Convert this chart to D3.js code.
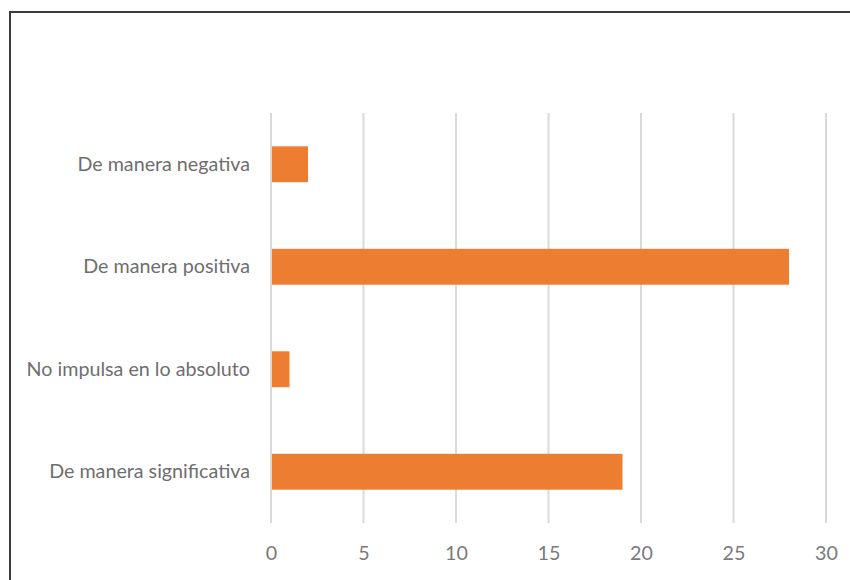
<!DOCTYPE html>
<html>
<head>
<meta charset="utf-8">
<script src="https://cdn.jsdelivr.net/npm/d3@7"></script>
<style>
  html, body { margin: 0; padding: 0; background: #fff; }
  svg { display: block; }
</style>
</head>
<body>
<svg id="chart" width="850" height="580"></svg>
<script>
const categories = ["De manera negativa", "De manera positiva", "No impulsa en lo absoluto", "De manera significativa"];
const values = [2, 28, 1, 19];
const tickValues = [0, 5, 10, 15, 20, 25, 30];

const svg = d3.select("#chart");
const W = 850, H = 580;
const margin = { left: 271, right: 24, top: 113, bottom: 57 };

// outer frame
svg.append("rect")
  .attr("x", 10).attr("y", 12)
  .attr("width", 860).attr("height", 600)
  .attr("fill", "#fff")
  .attr("stroke", "#3a3a3a")
  .attr("stroke-width", 2);

const x = d3.scaleLinear().domain([0, 30]).range([margin.left, W - margin.right]);
const y = d3.scaleBand().domain(categories).range([margin.top, H - margin.bottom]).paddingInner(0.65).paddingOuter(0.325);

// gridlines
svg.append("g")
  .selectAll("line")
  .data(tickValues)
  .join("line")
  .attr("x1", d => x(d)).attr("x2", d => x(d))
  .attr("y1", margin.top).attr("y2", H - margin.bottom)
  .attr("stroke", "#d9d9d9")
  .attr("stroke-width", 2);

// bars
svg.append("g")
  .selectAll("rect")
  .data(categories)
  .join("rect")
  .attr("x", x(0) + 1)
  .attr("y", d => y(d))
  .attr("width", (d, i) => x(values[i]) - x(0) - 1)
  .attr("height", y.bandwidth())
  .attr("fill", "#ED7D31");

// x axis labels
const xAxis = d3.axisBottom(x).tickValues(tickValues).tickSize(0).tickPadding(0);
const gx = svg.append("g")
  .attr("transform", `translate(0, ${H - margin.bottom + 23})`)
  .call(xAxis);
gx.select(".domain").remove();
gx.selectAll("text")
  .attr("font-family", "Lato, 'Open Sans', sans-serif")
  .attr("font-size", 19.7)
  .attr("fill", "#7a7a7a");

// y axis labels
const yAxis = d3.axisLeft(y).tickSize(0).tickPadding(21);
const gy = svg.append("g")
  .attr("transform", `translate(${margin.left}, 0)`)
  .call(yAxis);
gy.select(".domain").remove();
gy.selectAll("text")
  .attr("font-family", "Lato, 'Open Sans', sans-serif")
  .attr("font-size", 19.7)
  .attr("fill", "#6e6e6e");
</script>
</body>
</html>
